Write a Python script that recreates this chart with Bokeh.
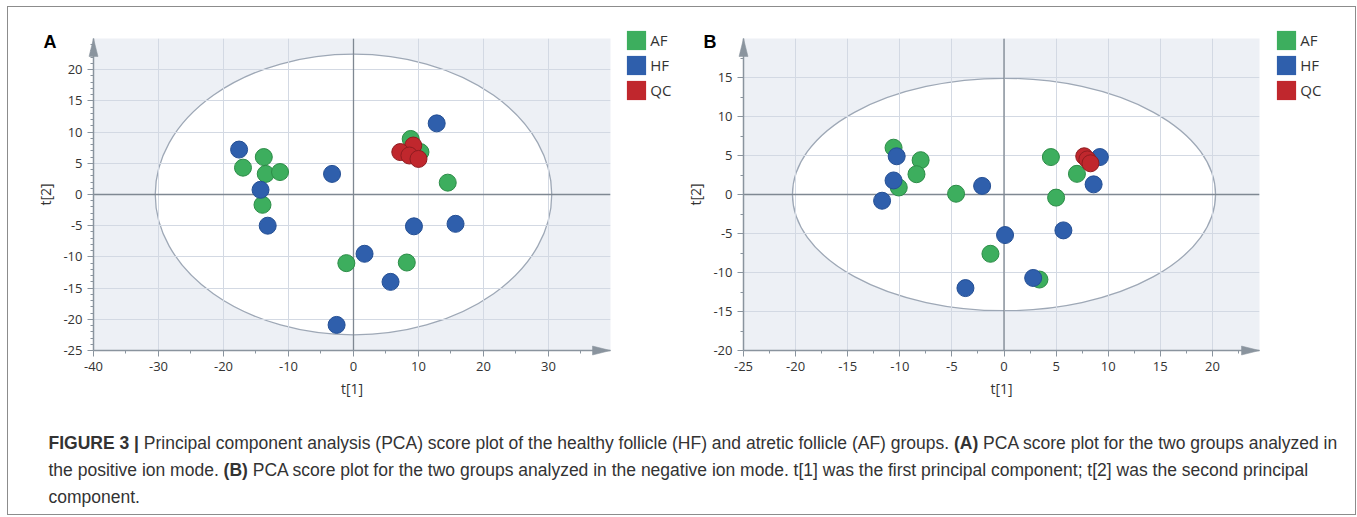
from bokeh.plotting import figure
from bokeh.models import (Range1d, Span, Legend, LegendItem, FixedTicker, ColumnDataSource, Spacer)
from bokeh.layouts import column, row
from bokeh.embed import file_html
from bokeh.resources import INLINE
from bokeh.core.properties import value

# ---------------- data ----------------
groups = ["AF", "HF", "QC"]
group_fill = ["#3dae5e", "#2f5fac", "#c0272d"]
group_line = ["#2c8c47", "#244f94", "#8f1c20"]

# Panel A (positive ion mode)
a_af_t1 = [-17.0, -13.8, -13.5, -11.3, -14.0, -1.1, 8.2, 8.8, 10.3, 14.5]
a_af_t2 = [4.3, 6.0, 3.3, 3.6, -1.65, -11.0, -10.9, 8.9, 6.8, 1.9]
a_hf_t1 = [-17.6, -14.3, -13.2, -3.3, 1.7, 5.7, -2.6, 9.3, 15.7, 12.8]
a_hf_t2 = [7.2, 0.75, -5.0, 3.3, -9.5, -14.0, -20.9, -5.1, -4.7, 11.4]
a_qc_t1 = [9.2, 7.2, 8.6, 10.0]
a_qc_t2 = [7.85, 6.8, 6.25, 5.7]
a_xticks = [-40, -30, -20, -10, 0, 10, 20, 30]
a_xminor = [-35, -25, -15, -5, 5, 15, 25, 35]
a_yticks = [-25, -20, -15, -10, -5, 0, 5, 10, 15, 20]
a_yminor = [v for v in range(-24, 25) if v % 5 != 0]
a_xrange = (-40, 39.54)
a_yrange = (-25, 25)
a_ellipse = (30.5, 22.5)

# Panel B (negative ion mode)
b_af_t1 = [-10.6, -8.0, -8.4, -10.1, -4.6, 4.5, 7.0, 5.0, -1.3, 3.4]
b_af_t2 = [6.0, 4.4, 2.6, 0.9, 0.1, 4.8, 2.65, -0.4, -7.6, -10.9]
b_hf_t1 = [-10.3, -10.6, -2.1, -11.7, 9.2, 8.6, 5.7, 0.1, 2.8, -3.7]
b_hf_t2 = [4.9, 1.8, 1.1, -0.8, 4.8, 1.3, -4.6, -5.2, -10.7, -12.0]
b_qc_t1 = [7.7, 8.0, 8.3]
b_qc_t2 = [4.9, 4.5, 4.0]
b_xticks = [-25, -20, -15, -10, -5, 0, 5, 10, 15, 20]
b_xminor = [-22.5, -17.5, -12.5, -7.5, -2.5, 2.5, 7.5, 12.5, 17.5, 22.5]
b_yticks = [-20, -15, -10, -5, 0, 5, 10, 15]
b_yminor = [-17.5, -12.5, -7.5, -2.5, 2.5, 7.5, 12.5, 17.5]
b_xrange = (-25, 24.52)
b_yrange = (-20, 20)
b_ellipse = (20.3, 14.9)

panel_letters = ["A", "B"]

caption_lines = [
    [("FIGURE 3 |", True),
     ("Principal component analysis (PCA) score plot of the healthy follicle (HF) and atretic follicle (AF) groups.", False),
     ("(A)", True),
     ("PCA score plot for the two groups analyzed in", False)],
    [("the positive ion mode.", False),
     ("(B)", True),
     ("PCA score plot for the two groups analyzed in the negative ion mode. t[1] was the first principal component; t[2] was the second principal", False)],
    [("component.", False)],
]

# ---------------- layout / style constants ----------------
BG = "#edf0f5"
GRID = "#d3d9e3"
AX = "#8a949e"
ZERO = "#7f8892"
ELL = "#9ea8b6"
TXT = "#333333"
TOP_H = 400
W_A, W_B = 673, 674
BORDER_TOP, BORDER_BOTTOM = 31, 57
A_BORDERS = (85, 71)     # left, right
B_BORDERS = (62, 96)


def make_panel(width, borders, xr, yr, xt, xm, yt, ym, ell, series):
    p = figure(width=width, height=TOP_H, x_range=Range1d(*xr), y_range=Range1d(*yr),
               toolbar_location=None, output_backend="svg",
               min_border_left=borders[0], min_border_right=borders[1],
               min_border_top=BORDER_TOP, min_border_bottom=BORDER_BOTTOM,
               x_axis_label="t[1]", y_axis_label="t[2]")
    p.background_fill_color = BG
    p.border_fill_color = "white"
    p.outline_line_color = None

    p.ellipse(x=[0], y=[0], width=[2 * ell[0]], height=[2 * ell[1]],
              fill_color="white", line_color=ELL, line_width=1.3, level="image")

    p.xaxis.ticker = FixedTicker(ticks=xt, minor_ticks=xm)
    p.yaxis.ticker = FixedTicker(ticks=yt, minor_ticks=ym)
    p.xgrid.ticker = FixedTicker(ticks=xt)
    p.ygrid.ticker = FixedTicker(ticks=yt)
    p.xaxis.major_label_overrides = {t: str(t) for t in xt}
    p.yaxis.major_label_overrides = {t: str(t) for t in yt}
    p.grid.grid_line_color = GRID
    p.grid.grid_line_width = 1
    p.axis.axis_line_color = AX
    p.axis.axis_line_width = 1.5
    p.axis.major_tick_line_color = AX
    p.axis.minor_tick_line_color = AX
    p.axis.major_tick_out = 6
    p.axis.major_tick_in = 0
    p.axis.minor_tick_out = 3
    p.axis.minor_tick_in = 0
    p.axis.major_label_text_font = "Open Sans"
    p.axis.major_label_text_font_size = "13px"
    p.axis.major_label_text_color = TXT
    p.axis.axis_label_text_font = "Open Sans"
    p.axis.axis_label_text_font_size = "14px"
    p.axis.axis_label_text_font_style = "normal"
    p.axis.axis_label_text_color = TXT

    p.add_layout(Span(location=0, dimension="height", line_color=ZERO, line_width=1.3, level="underlay"))
    p.add_layout(Span(location=0, dimension="width", line_color=ZERO, line_width=1.3, level="underlay"))

    for (xs, ys), fc, lc in zip(series, group_fill, group_line):
        p.scatter(xs, ys, size=17, fill_color=fc, line_color=lc, line_width=1)
    return p


pA = make_panel(W_A, A_BORDERS, a_xrange, a_yrange, a_xticks, a_xminor,
                a_yticks, a_yminor, a_ellipse,
                [(a_af_t1, a_af_t2), (a_hf_t1, a_hf_t2), (a_qc_t1, a_qc_t2)])
pB = make_panel(W_B, B_BORDERS, b_xrange, b_yrange, b_xticks, b_xminor,
                b_yticks, b_yminor, b_ellipse,
                [(b_af_t1, b_af_t2), (b_hf_t1, b_hf_t2), (b_qc_t1, b_qc_t2)])

# ------- transparent overlay (pixel space): panel letters, axis arrowheads, legends -------
OV_W = W_A + W_B
ov = figure(width=OV_W, height=TOP_H, x_range=Range1d(0, OV_W), y_range=Range1d(TOP_H, 0),
            toolbar_location=None, output_backend="svg", x_axis_type=None, y_axis_type=None,
            min_border=0, margin=(-TOP_H, 0, 0, 0))
ov.grid.visible = False
ov.outline_line_color = None
ov.background_fill_alpha = 0
ov.border_fill_alpha = 0

# arrowheads at the ends of each panel's axes (frame corners of each panel)
HEAD_L, HEAD_W = 18, 4.5
xs_heads, ys_heads = [], []
for off, width, (bl, br) in ((0, W_A, A_BORDERS), (W_A, W_B, B_BORDERS)):
    left = off + bl
    right = off + width - br
    top = BORDER_TOP
    bottom = TOP_H - BORDER_BOTTOM
    xs_heads.append([left, left - HEAD_W, left + HEAD_W])
    ys_heads.append([top, top + HEAD_L, top + HEAD_L])
    xs_heads.append([right, right - HEAD_L, right - HEAD_L])
    ys_heads.append([bottom, bottom - HEAD_W, bottom + HEAD_W])
ov.patches(xs_heads, ys_heads, fill_color=AX, line_color=AX, line_width=0.5)

ov.text(x=[35, 695], y=[34, 34], text=panel_letters,
        text_font=value("Liberation Sans"), text_font_style=value("bold"),
        text_font_size=value("18px"), text_color="black",
        text_baseline="alphabetic", text_align="left")

# legend proxies lie outside the visible range (only their legend swatches show)
proxies = [ov.quad(left=[-30], right=[-20], top=[-30], bottom=[-20], fill_color=fc, line_color=None)
           for fc in group_fill]
for vx in (616.3, 1266.3):
    leg = Legend(items=[LegendItem(label=g, renderers=[r]) for g, r in zip(groups, proxies)],
                 location=(vx, TOP_H - 95.3), orientation="vertical",
                 glyph_width=24, glyph_height=24, spacing=1, padding=0, margin=0,
                 border_line_color=None, background_fill_alpha=0,
                 label_text_font="Open Sans", label_text_font_size="15px",
                 label_text_color=TXT, label_standoff=2, label_height=24)
    ov.add_layout(leg)

# ---------------- caption ----------------
REG = {' ': 278, '(': 333, ')': 333, '.': 278, ';': 278, '|': 260, '[': 278, ']': 278,
       'A': 667, 'B': 667, 'C': 722, 'E': 667, 'F': 611, 'G': 778, 'H': 722, 'I': 278, 'P': 667,
       'R': 722, 'U': 722, 'a': 556, 'b': 556, 'c': 500, 'd': 556, 'e': 556, 'f': 278, 'g': 556,
       'h': 556, 'i': 222, 'l': 222, 'm': 833, 'n': 556, 'o': 556, 'p': 556, 'r': 333, 's': 500,
       't': 278, 'u': 556, 'v': 500, 'w': 722, 'y': 500, 'z': 500}
BOLD = {' ': 278, '(': 333, ')': 333, '|': 280, 'A': 722, 'B': 722, 'E': 667, 'F': 611,
        'G': 778, 'I': 278, 'R': 722, 'U': 722}
CAP_SIZE = 17.5


def tw(s, bold):
    tab = BOLD if bold else REG
    return sum(tab.get(ch, 556) for ch in s) * CAP_SIZE / 1000.0


CAP_W, CAP_H = OV_W, 107
cap = figure(width=CAP_W, height=CAP_H, x_range=Range1d(0, CAP_W), y_range=Range1d(CAP_H, 0),
             toolbar_location=None, output_backend="svg", x_axis_type=None, y_axis_type=None,
             min_border=0)
cap.grid.visible = False
cap.outline_line_color = None
cap.background_fill_color = "white"
cap.border_fill_color = "white"

reg = dict(x=[], y=[], text=[])
bld = dict(x=[], y=[], text=[])
x0 = 40
baselines = [35, 62, 89]
for line, yb in zip(caption_lines, baselines):
    x = x0
    for seg, bold in line:
        d = bld if bold else reg
        d["x"].append(x)
        d["y"].append(yb)
        d["text"].append(seg)
        x += tw(seg, bold) + tw(" ", False)

cap.text(x="x", y="y", text="text", source=ColumnDataSource(reg),
         text_font=value("Liberation Sans"), text_font_size=value(f"{CAP_SIZE}px"),
         text_color=TXT, text_baseline="alphabetic", text_align="left")
cap.text(x="x", y="y", text="text", source=ColumnDataSource(bld),
         text_font=value("Liberation Sans"), text_font_size=value(f"{CAP_SIZE}px"),
         text_font_style=value("bold"), text_color=TXT, text_baseline="alphabetic", text_align="left")

framed = column(row(pA, pB), ov, cap, styles={"border": "1px solid #8c8c8c"})
layout = column(Spacer(height=6), row(Spacer(width=7), framed))
open("out.html", "w").write(file_html(layout, INLINE))
